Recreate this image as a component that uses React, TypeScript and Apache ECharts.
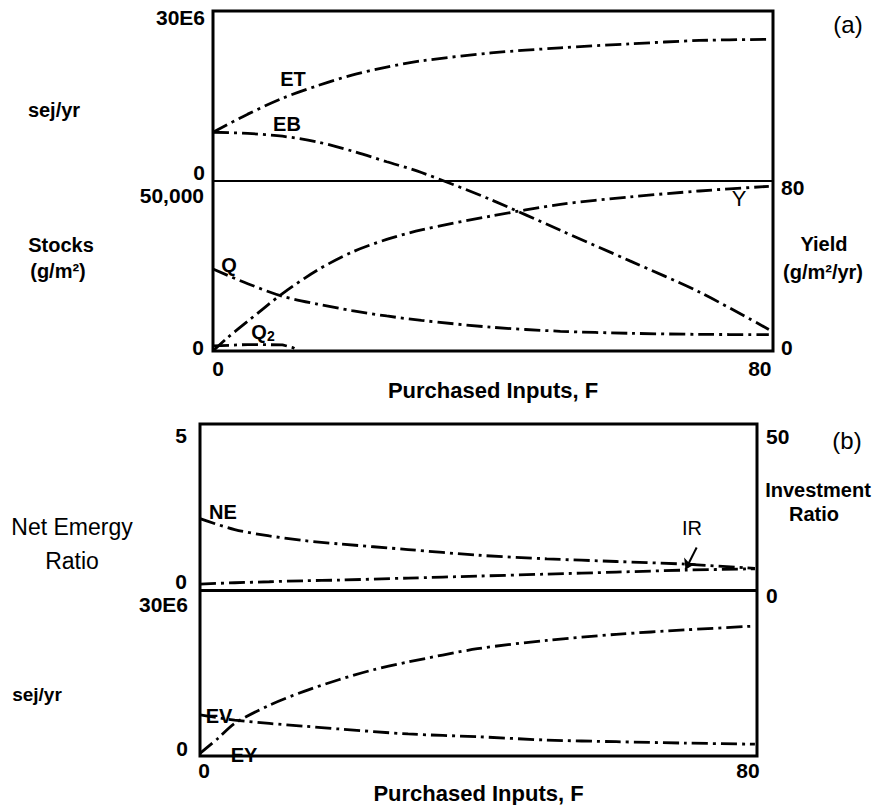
import React, { useEffect, useRef } from 'react';
import * as echarts from 'echarts';

const FONT = '"Liberation Sans", Arial, Helvetica, sans-serif';

// ---- tick labels ----
const xTicks = [0, 80];
const energyTicks = [0, 30]; // E6 sej/yr (panel a)
const stockTicks = [0, 50000];
const yieldTicks = [0, 80];
const neTicks = [0, 5];
const irTicks = [0, 50];
const sejTicks = [0, 30]; // E6 sej/yr (panel b)

// ---- panel (a) data ----
const F = [0, 5, 10, 15, 20, 25, 30, 40, 50, 60, 70, 80];
const ET = [8.6, 11.8, 14.6, 16.8, 18.7, 20.1, 21.2, 22.6, 23.5, 24.2, 24.8, 25.0];
const EB = [8.6, 8.4, 7.9, 6.9, 5.3, 3.4, 1.5, -3.3, -8.7, -14.1, -19.6, -26.2];
const Q = [24100, 19800, 16100, 13800, 11900, 10300, 9000, 7000, 5800, 5200, 4900, 4800];
const yF = [0, 2, 5, 10, 15, 20, 25, 30, 40, 50, 60, 70, 80];
const Y = [0, 6, 14, 27, 38, 46.5, 52.5, 57, 63.5, 69, 72.5, 75.3, 77.5];
const q2F = [0, 5, 10, 11.5, 12.3];
const Q2 = [1500, 1900, 1800, 1000, 0];

// ---- panel (b) data ----
const bF = [0, 5, 10, 15, 20, 30, 40, 50, 60, 70, 80];
const NE = [2.15, 1.82, 1.63, 1.49, 1.39, 1.22, 1.05, 0.94, 0.86, 0.78, 0.65];
const IR = [1.8, 2.2, 2.5, 2.8, 3.0, 3.6, 4.2, 4.8, 5.4, 6.0, 6.4];
const EV = [7.45, 6.5, 5.9, 5.4, 4.9, 4.0, 3.5, 2.9, 2.6, 2.35, 2.15];
const eyF = [0, 2.5, 5, 10, 15, 20, 25, 30, 40, 50, 60, 70, 80];
const EY = [0.5, 3.1, 5.9, 9.2, 11.7, 13.8, 15.6, 17.0, 19.4, 20.9, 22.0, 22.8, 23.5];
const irArrow = [[71.6, 12.8], [70, 6.2]];

const zip = (xs: number[], ys: number[]) => xs.map((x, i) => [x, ys[i]]);

const DASH = [16, 5, 3, 5];
const lbl = { fontFamily: FONT, fontSize: 21, fontWeight: 'bold' as const, color: '#000' };

// rich style shifting a label up (negative) or down (positive) by d px, or left/right
const shiftV = (d: number) => ({ ...lbl, padding: d >= 0 ? [2 * d, 0, 0, 0] : [0, 0, -2 * d, 0] });
const shiftH = (d: number) => ({ ...lbl, padding: d >= 0 ? [0, 0, 0, 2 * d] : [0, -2 * d, 0, 0] });

function yAxis(
  gridIndex: number,
  position: 'left' | 'right',
  min: number,
  max: number,
  ticks: number[],
  fmt: (v: number) => string,
  shifts: number[],
  margin: number
) {
  const rich: any = { s0: shiftV(shifts[0]), s1: shiftV(shifts[1]) };
  return {
    type: 'value',
    gridIndex,
    position,
    min,
    max,
    axisLine: { show: false },
    axisTick: { show: false },
    splitLine: { show: false },
    axisLabel: {
      ...lbl,
      margin,
      customValues: ticks,
      formatter: (v: number) => `{s${v === ticks[0] ? 0 : 1}|${fmt(v)}}`,
      rich,
    },
  };
}

function xAxis(gridIndex: number, max: number, shifts: number[], margin: number, nameGap: number) {
  return {
    type: 'value',
    gridIndex,
    min: 0,
    max,
    axisLine: { show: false },
    axisTick: { show: false },
    splitLine: { show: false },
    axisLabel: {
      ...lbl,
      margin,
      customValues: xTicks,
      formatter: (v: number) => `{s${v === xTicks[0] ? 0 : 1}|${v}}`,
      rich: { s0: shiftH(shifts[0]), s1: shiftH(shifts[1]) },
    },
    name: 'Purchased Inputs, F',
    nameLocation: 'middle',
    nameGap,
    nameTextStyle: { ...lbl, fontSize: 22 },
  };
}

function line(name: string, xAxisIndex: number, yAxisIndex: number, data: number[][], extra: any = {}) {
  return {
    type: 'line',
    name,
    xAxisIndex,
    yAxisIndex,
    data,
    symbol: 'none',
    showSymbol: false,
    smooth: 0.3,
    silent: true,
    lineStyle: { color: '#000', width: 2.8, type: DASH },
    ...extra,
  };
}

function txt(text: string, x: number, y: number, size = 20, weight: any = 'bold', extra: any = {}) {
  return {
    type: 'text',
    x,
    y,
    silent: true,
    style: {
      text,
      fontFamily: FONT,
      fontSize: size,
      fontWeight: weight,
      fill: '#000',
      align: 'center',
      verticalAlign: 'middle',
      ...extra,
    },
  };
}

export default function App() {
  const ref = useRef<HTMLDivElement>(null);

  useEffect(() => {
    if (!ref.current) return;
    const chart = echarts.init(ref.current, undefined, { renderer: 'svg' });
    const midLine = (width: number) => ({
      silent: true,
      symbol: ['none', 'none'],
      label: { show: false },
      lineStyle: { color: '#000', width, type: 'solid' },
      data: [{ yAxis: 0 }],
    });

    chart.setOption({
      animation: false,
      backgroundColor: '#fff',
      grid: [
        { left: 213, top: 11, width: 560, height: 340, show: true, borderColor: '#000', borderWidth: 3 },
        { left: 200, top: 424, width: 557, height: 347, show: true, borderColor: '#000', borderWidth: 3 },
      ],
      xAxis: [xAxis(0, 80.6, [5, -9], 7, 13), xAxis(1, 80.3, [4, -7], 4, 9)],
      yAxis: [
        yAxis(0, 'left', -30, 30, energyTicks, (v) => (v === 0 ? '0' : `${v}E6`), [-9, 6.5], 8),
        yAxis(0, 'left', 0, 100000, stockTicks, (v) => (v === 0 ? '0' : v.toLocaleString('en-US')), [-4, 14], 9),
        yAxis(0, 'right', 0, 160, yieldTicks, (v) => `${v}`, [-4, 6], 8),
        yAxis(1, 'left', -5, 5, neTicks, (v) => `${v}`, [-9, 11], 13),
        yAxis(1, 'right', -50, 50, irTicks, (v) => `${v}`, [5.5, 12.5], 9),
        yAxis(1, 'left', 0, 60, sejTicks, (v) => (v === 0 ? '0' : `${v}E6`), [-8, 14], 12),
      ],
      series: [
        line('ET', 0, 0, zip(F, ET), { markLine: midLine(2) }),
        line('EB', 0, 0, zip(F, EB)),
        line('Y', 0, 2, zip(yF, Y)),
        line('Q', 0, 1, zip(F, Q)),
        line('Q2', 0, 1, zip(q2F, Q2), { smooth: false }),
        line('NE', 1, 3, zip(bF, NE), { markLine: midLine(3) }),
        line('IR', 1, 4, zip(bF, IR), {
          markLine: {
            silent: true,
            symbol: ['none', 'arrow'],
            symbolSize: 10,
            label: { show: false },
            lineStyle: { color: '#000', width: 2, type: 'solid' },
            data: [[{ coord: irArrow[0] }, { coord: irArrow[1] }]],
          },
        }),
        line('EV', 1, 5, zip(bF, EV)),
        line('EY', 1, 5, zip(eyF, EY)),
      ],
      graphic: [
        // panel (a) texts
        txt('(a)', 848, 24, 24, 'normal'),
        txt('sej/yr', 54, 110),
        txt('Stocks', 61, 245),
        txt('(g/m²)', 58, 271),
        txt('Yield', 824, 244),
        txt('(g/m²/yr)', 823, 272),
        txt('ET', 293, 79),
        txt('EB', 287, 124),
        txt('Q', 229, 265),
        txt('{a|Q}{b|2}', 263, 332, 20, 'bold', {
          rich: {
            a: { fontFamily: FONT, fontSize: 20, fontWeight: 'bold', fill: '#000' },
            b: { fontFamily: FONT, fontSize: 14, fontWeight: 'bold', fill: '#000', padding: [8, 0, 0, 0] },
          },
        }),
        txt('Y', 739, 198, 22, 'normal'),
        // panel (b) texts
        txt('(b)', 847, 440, 24, 'normal'),
        txt('Net Emergy', 72, 527, 23, 'normal'),
        txt('Ratio', 72, 561, 23, 'normal'),
        txt('Investment', 818, 490, 20),
        txt('Ratio', 814, 514, 20),
        txt('sej/yr', 37, 694, 19),
        txt('NE', 223, 512),
        txt('IR', 692, 528, 20, 'normal'),
        txt('EV', 219, 716),
        txt('EY', 244, 755),
      ],
    });
    return () => chart.dispose();
  }, []);

  return (
    <div
      ref={ref}
      style={{ position: 'absolute', left: 0, top: 0, width: 884, height: 805, background: '#fff' }}
    />
  );
}
